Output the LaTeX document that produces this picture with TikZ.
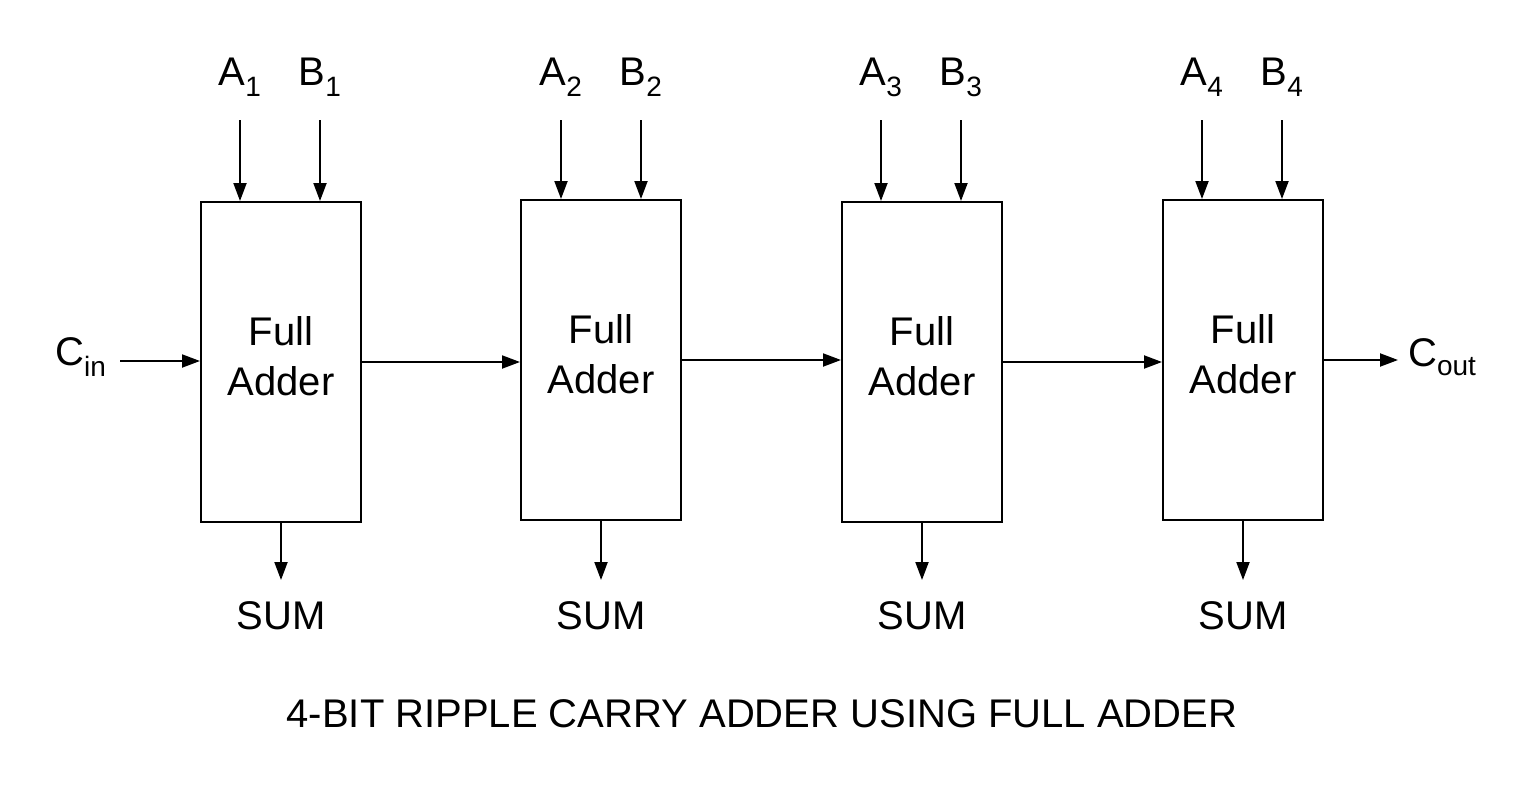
\documentclass[tikz,border=0pt]{standalone}
\usepackage{fontspec}
\setmainfont{Liberation Sans}
\usetikzlibrary{arrows.meta}
\begin{document}
\begin{tikzpicture}[x=1pt,y=-1pt,
  fa/.style={draw,line width=2pt,minimum width=160pt,minimum height=320pt,inner sep=0pt},
  fatext/.style={font=\fontsize{40}{50}\selectfont,align=center,inner sep=0pt},
  lbl/.style={font=\fontsize{40}{46}\selectfont,inner sep=0pt},
  arr/.style={line width=2pt,-{Triangle[length=18pt,width=13pt]}}]
\useasboundingbox (0,0) rectangle (1524,800);
\fill[white] (0,0) rectangle (1524,800);
% boxes
\node[fa] (f1) at (281,362) {};
\node[fa] (f2) at (601,360) {};
\node[fa] (f3) at (922,362) {};
\node[fa] (f4) at (1243,360) {};
\foreach \i in {1,...,4}{
  \node[fatext] (t\i) at ([yshift=6pt]f\i.center) {Full\\Adder};
}
% inputs
\foreach \i/\xa/\xb in {1/240/320,2/561/641,3/881/961,4/1202/1282}{
  \node[lbl] (a\i) at (\xa,77) {A\textsubscript{\i}};
  \node[lbl] (b\i) at (\xb,77) {B\textsubscript{\i}};
  \coordinate (ta\i) at (\xa,120);
  \coordinate (tb\i) at (\xb,120);
  \draw[arr] (ta\i) -- (ta\i |- f\i.north);
  \draw[arr] (tb\i) -- (tb\i |- f\i.north);
  \node[lbl] (s\i) at (f\i.south |- 0,616) {SUM};
  \coordinate (se\i) at (f\i.south |- 0,580);
  \draw[arr] (f\i.south) -- (se\i);
}
% carry
\node[lbl,anchor=west] (cin) at (55,357) {C\textsubscript{in}};
\coordinate (cs) at (120,361);
\draw[arr] (cs) -- (cs -| f1.west);
\draw[arr] (f1.east) -- (f1.east -| f2.west);
\draw[arr] (f2.east) -- (f2.east -| f3.west);
\draw[arr] (f3.east) -- (f3.east -| f4.west);
\node[lbl,anchor=west] (cout) at (1408,357) {C\textsubscript{out}};
\coordinate (ce) at (1398,360);
\draw[arr] (f4.east) -- (ce);
% title
\node[lbl] (title) at (762,714) {4-BIT RIPPLE CARRY ADDER USING FULL ADDER};
\end{tikzpicture}
\end{document}
